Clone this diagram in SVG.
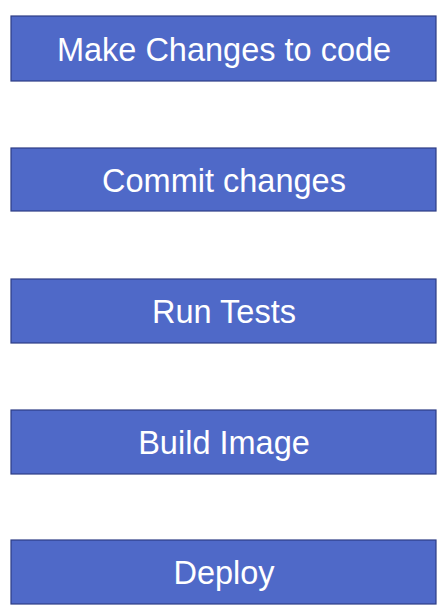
<svg xmlns="http://www.w3.org/2000/svg" width="443" height="616" viewBox="0 0 443 616">
<style>
.box{fill:#4f69c8;stroke:#2e3d85;stroke-width:1.2}
.lbl{fill:#ffffff;font-family:"Liberation Sans",Arial,sans-serif;font-size:32.5px;text-anchor:middle;dominant-baseline:central}
</style>
<rect width="443" height="616" fill="#ffffff"/>
<g id="connectors"></g>
<g id="n1"><rect class="box" x="11" y="16" width="425" height="65"/><text class="lbl" x="224" y="50">Make Changes to code</text></g>
<g id="n2"><rect class="box" x="11" y="148" width="425" height="63"/><text class="lbl" x="224" y="181">Commit changes</text></g>
<g id="n3"><rect class="box" x="11" y="279" width="425" height="64"/><text class="lbl" x="224" y="312">Run Tests</text></g>
<g id="n4"><rect class="box" x="11" y="410" width="425" height="64"/><text class="lbl" x="224" y="443">Build Image</text></g>
<g id="n5"><rect class="box" x="11" y="540" width="425" height="64"/><text class="lbl" x="224" y="573">Deploy</text></g>
</svg>
